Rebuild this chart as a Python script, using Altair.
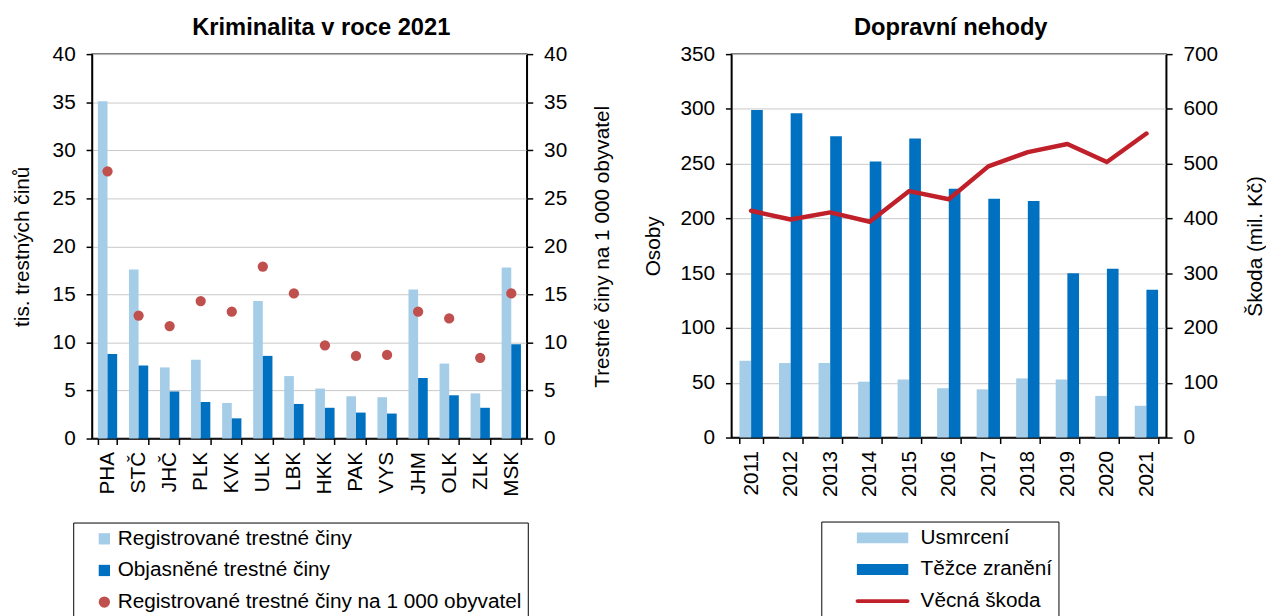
import altair as alt
import pandas as pd

# ---------------- data: left panel (Kriminalita v roce 2021) ----------------
regions = ["PHA", "STČ", "JHČ", "PLK", "KVK", "ULK", "LBK", "HKK", "PAK", "VYS",
           "JHM", "OLK", "ZLK", "MSK"]
reg_crimes = [35.1, 17.6, 7.4, 8.2, 3.7, 14.3, 6.5, 5.2, 4.4, 4.3, 15.5, 7.8, 4.7, 17.8]
solved_crimes = [8.8, 7.6, 4.9, 3.8, 2.1, 8.6, 3.6, 3.2, 2.7, 2.6, 6.3, 4.5, 3.2, 9.8]
crimes_per_1000 = [27.8, 12.8, 11.7, 14.3, 13.2, 17.9, 15.1, 9.7, 8.6, 8.7, 13.2, 12.5, 8.4, 15.1]
left_series = ["Registrované trestné činy", "Objasněné trestné činy",
               "Registrované trestné činy na 1 000 obyvatel"]
left_ticks = [0, 5, 10, 15, 20, 25, 30, 35, 40]

# ---------------- data: right panel (Dopravní nehody) ----------------
years = ["2011", "2012", "2013", "2014", "2015", "2016", "2017", "2018", "2019", "2020", "2021"]
killed = [70, 68, 68, 51, 53, 45, 44, 54, 53, 38, 29]
injured = [299, 296, 275, 252, 273, 227, 218, 216, 150, 154, 135]
damage = [414, 398, 411, 394, 450, 435, 495, 521, 536, 503, 555]
right_series = ["Usmrcení", "Těžce zranění", "Věcná škoda"]
persons_ticks = [0, 50, 100, 150, 200, 250, 300, 350]
damage_ticks = [0, 100, 200, 300, 400, 500, 600, 700]

# ---------------- styles ----------------
FONT = "Liberation Sans"
LIGHT = "#a6cde8"
DARK = "#0070c0"
DOT = "#c0504d"
LINE = "#c0202a"
GRID = "#c8c8c8"
FS = 21

df_l_reg = pd.DataFrame({"kraj": regions, "serie": left_series[0], "hodnota": reg_crimes})
df_l_sol = pd.DataFrame({"kraj": regions, "serie": left_series[1], "hodnota": solved_crimes})
df_l_dots = pd.DataFrame({"kraj": regions, "serie": left_series[2], "hodnota": crimes_per_1000})

df_r_killed = pd.DataFrame({"rok": years, "serie": right_series[0], "hodnota": killed})
df_r_injured = pd.DataFrame({"rok": years, "serie": right_series[1], "hodnota": injured})
df_r_line = pd.DataFrame({"rok": years, "serie": right_series[2], "hodnota": damage})


def y_axis(title, values, orient, grid, label_pad, title_pad):
    return alt.Axis(title=title, orient=orient, values=values, grid=grid, gridColor=GRID,
                    gridWidth=1, labelPadding=label_pad, titlePadding=title_pad,
                    titleAngle=270, tickSize=6)


def x_axis():
    return alt.Axis(title=None, labelAngle=270, tickBand="extent", labelPadding=7, tickSize=6)


# ---------------- left chart ----------------
x_scale_l = alt.Scale(type="band", paddingInner=0.38, paddingOuter=0.19)
y_scale_l = alt.Scale(domain=[0, 40], nice=False)
color_l = alt.Scale(domain=left_series, range=[LIGHT, DARK, DOT])
shape_l = alt.Scale(domain=left_series, range=["square", "square", "circle"])
legend_l = alt.Legend(title=None, orient="none", legendX=-19, legendY=474, direction="vertical",
                      padding=6, symbolOffset=15, labelOffset=3, rowPadding=10,
                      symbolSize=130, symbolStrokeWidth=0, symbolOpacity=1,
                      strokeColor="black", fillColor="white", labelFontSize=FS,
                      labelFont=FONT, labelColor="black", labelLimit=700)
left_y_axis = y_axis("tis. trestných činů", left_ticks, "left", True, 11, 20)

bars_l1 = alt.Chart(df_l_reg).mark_bar(size=9.75, xOffset=-4.875).encode(
    x=alt.X("kraj:N", sort=regions, scale=x_scale_l, axis=x_axis()),
    y=alt.Y("hodnota:Q", scale=y_scale_l, axis=left_y_axis),
    color=alt.Color("serie:N", scale=color_l, legend=legend_l),
)
bars_l2 = alt.Chart(df_l_sol).mark_bar(size=9.75, xOffset=4.875).encode(
    x=alt.X("kraj:N", sort=regions, scale=x_scale_l, axis=x_axis()),
    y=alt.Y("hodnota:Q", scale=y_scale_l, axis=left_y_axis),
    color=alt.Color("serie:N", scale=color_l, legend=legend_l),
)
dots_l = alt.Chart(df_l_dots).mark_point(filled=True, size=108, opacity=1).encode(
    x=alt.X("kraj:N", sort=regions, scale=x_scale_l, axis=x_axis()),
    y=alt.Y("hodnota:Q", scale=alt.Scale(domain=[0, 40], nice=False),
            axis=y_axis("Trestné činy na 1 000 obyvatel", left_ticks, "right", False, 11, 46)),
    color=alt.Color("serie:N", scale=color_l, legend=legend_l),
    shape=alt.Shape("serie:N", scale=shape_l, legend=legend_l),
)
left = alt.layer(alt.layer(bars_l1, bars_l2), dots_l).resolve_scale(y="independent").properties(
    width=440, height=389,
    title=alt.TitleParams("Kriminalita v roce 2021", fontSize=24, font=FONT,
                          fontWeight="bold", anchor="middle", offset=3, dx=12, color="black"),
)

# ---------------- right chart ----------------
x_scale_r = alt.Scale(type="band", paddingInner=0.41, paddingOuter=0.205)
y_scale_r = alt.Scale(domain=[0, 350], nice=False)
BAR_PATH = "M-4.73,-1H4.73V1H-4.73Z"
LINE_PATH = "M-4.6,-0.36H4.6A0.36,0.36 0 0 1 4.6,0.36H-4.6A0.36,0.36 0 0 1 -4.6,-0.36Z"
color_r = alt.Scale(domain=right_series, range=[LIGHT, DARK, LINE])
shape_r = alt.Scale(domain=right_series, range=[BAR_PATH, BAR_PATH, LINE_PATH])
legend_r = alt.Legend(
    title=None, orient="none", legendX=91, legendY=473, direction="vertical",
    padding=6, symbolSize=121, symbolOffset=45.5, labelOffset=28, symbolOpacity=1,
    symbolStrokeWidth=0, rowPadding=10, strokeColor="black", fillColor="white",
    labelFontSize=FS, labelFont=FONT, labelColor="black", labelLimit=700,
)
right_y_axis = y_axis("Osoby", persons_ticks, "left", True, 11, 17)
damage_axis = y_axis("Škoda (mil. Kč)", damage_ticks, "right", False, 11, 48)

bars_r1 = alt.Chart(df_r_killed).mark_bar(size=11.8, xOffset=-5.9).encode(
    x=alt.X("rok:N", sort=years, scale=x_scale_r, axis=x_axis()),
    y=alt.Y("hodnota:Q", scale=y_scale_r, axis=right_y_axis),
    color=alt.Color("serie:N", scale=color_r, legend=legend_r),
)
bars_r2 = alt.Chart(df_r_injured).mark_bar(size=11.8, xOffset=5.9).encode(
    x=alt.X("rok:N", sort=years, scale=x_scale_r, axis=x_axis()),
    y=alt.Y("hodnota:Q", scale=y_scale_r, axis=right_y_axis),
    color=alt.Color("serie:N", scale=color_r, legend=legend_r),
)
y_damage = alt.Scale(domain=[0, 700], nice=False)
line_r = alt.Chart(df_r_line).mark_line(strokeWidth=4.5, strokeJoin="round", strokeCap="round").encode(
    x=alt.X("rok:N", sort=years, scale=x_scale_r, axis=x_axis()),
    y=alt.Y("hodnota:Q", scale=y_damage, axis=damage_axis),
    color=alt.Color("serie:N", scale=color_r, legend=None),
)
# tiny points on the line: they only carry the shape channel for the legend symbols
keys_r = alt.Chart(df_r_line).mark_point(filled=True, size=1, opacity=1).encode(
    x=alt.X("rok:N", sort=years, scale=x_scale_r, axis=x_axis()),
    y=alt.Y("hodnota:Q", scale=y_damage, axis=damage_axis),
    color=alt.Color("serie:N", scale=color_r, legend=legend_r),
    shape=alt.Shape("serie:N", scale=shape_r, legend=legend_r),
)
right = alt.layer(alt.layer(bars_r1, bars_r2), alt.layer(line_r, keys_r)).resolve_scale(
    y="independent"
).properties(
    width=440, height=388,
    title=alt.TitleParams("Dopravní nehody", fontSize=24, font=FONT,
                          fontWeight="bold", anchor="middle", offset=3, dx=2, color="black"),
)

chart = alt.hconcat(left, right, spacing=28).resolve_scale(
    color="independent", shape="independent"
).properties(
    padding={"left": 2, "top": 4, "right": 0, "bottom": 0}
).configure_view(
    stroke="black", strokeWidth=1.5
).configure_axis(
    labelFont=FONT, labelFontSize=FS, labelColor="black",
    titleFont=FONT, titleFontSize=FS, titleFontWeight="normal", titleColor="black",
    domainColor="black", domainWidth=1.5, tickColor="black", tickWidth=1.5,
).configure_legend(
    strokeWidth=1
)

chart.save("out.html", embed_options={"renderer": "svg", "actions": False})
